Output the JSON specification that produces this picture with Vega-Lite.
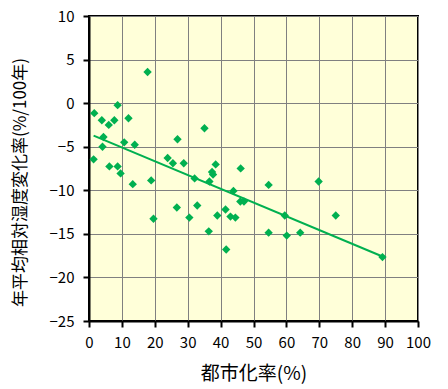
{
  "$schema": "https://vega.github.io/schema/vega-lite/v6.json",
  "width": 329,
  "height": 305,
  "autosize": "none",
  "padding": {"left": 89, "top": 16, "right": 30, "bottom": 68},
  "background": "white",
  "config": {
    "view": {"fill": "#FFFFD9", "stroke": "black", "strokeWidth": 2},
    "font": "Noto Sans CJK JP",
    "axis": {
      "grid": true,
      "gridColor": "#808080",
      "gridWidth": 1,
      "gridOpacity": 1,
      "domainColor": "black",
      "domainWidth": 2,
      "tickColor": "black",
      "tickWidth": 2,
      "tickSize": 6,
      "labelColor": "black",
      "labelFont": "Noto Sans CJK JP",
      "labelFontSize": 15,
      "labelOverlap": false,
      "labelFlush": false,
      "titleColor": "black",
      "titleFont": "Noto Sans CJK JP",
      "titleFontWeight": "normal"
    }
  },
  "datasets": {
    "pts": [
      {"u": 1.6, "r": -1.15}, {"u": 3.9, "r": -1.96}, {"u": 6.0, "r": -2.5}, {"u": 7.7, "r": -1.96},
      {"u": 8.7, "r": -0.23}, {"u": 12.0, "r": -1.73}, {"u": 17.8, "r": 3.57}, {"u": 4.4, "r": -3.88},
      {"u": 4.1, "r": -5.0}, {"u": 10.7, "r": -4.5}, {"u": 13.9, "r": -4.77}, {"u": 26.9, "r": -4.15},
      {"u": 35.1, "r": -2.88}, {"u": 1.4, "r": -6.45}, {"u": 6.2, "r": -7.26}, {"u": 8.7, "r": -7.26},
      {"u": 9.6, "r": -8.06}, {"u": 13.3, "r": -9.3}, {"u": 18.9, "r": -8.87}, {"u": 23.9, "r": -6.3},
      {"u": 25.5, "r": -6.9}, {"u": 28.8, "r": -6.9}, {"u": 32.1, "r": -8.64}, {"u": 36.6, "r": -8.99},
      {"u": 37.4, "r": -7.9}, {"u": 37.7, "r": -8.2}, {"u": 38.5, "r": -7.03}, {"u": 43.9, "r": -10.07},
      {"u": 46.1, "r": -7.49}, {"u": 19.6, "r": -13.27}, {"u": 26.7, "r": -11.98}, {"u": 30.5, "r": -13.13},
      {"u": 32.9, "r": -11.75}, {"u": 36.4, "r": -14.71}, {"u": 39.0, "r": -12.9}, {"u": 41.5, "r": -12.2},
      {"u": 41.7, "r": -16.8}, {"u": 43.0, "r": -13.02}, {"u": 44.5, "r": -13.13}, {"u": 46.0, "r": -11.29},
      {"u": 47.1, "r": -11.29}, {"u": 54.6, "r": -9.38}, {"u": 69.8, "r": -8.99}, {"u": 59.5, "r": -12.9},
      {"u": 75.0, "r": -12.9}, {"u": 54.6, "r": -14.86}, {"u": 60.1, "r": -15.2}, {"u": 64.2, "r": -14.86},
      {"u": 89.2, "r": -17.67}
    ],
    "trend": [
      {"u": 1.4, "r": -3.73},
      {"u": 89.2, "r": -17.6}
    ]
  },
  "encoding": {
    "x": {
      "field": "u", "type": "quantitative",
      "scale": {"domain": [0, 100], "nice": false, "zero": false},
      "axis": {"values": [0,10,20,30,40,50,60,70,80,90,100], "grid": true, "title": "都市化率(%)", "titleFontSize": 19, "labelPadding": 8, "titlePadding": 14}
    },
    "y": {
      "field": "r", "type": "quantitative",
      "scale": {"domain": [-25, 10], "nice": false, "zero": false},
      "axis": {"values": [-25,-20,-15,-10,-5,0,5,10], "grid": true, "title": "年平均相対湿度変化率(%/100年)", "titleFontSize": 17, "labelPadding": 9, "titleX": -69, "titleY": 166, "titleAngle": -90, "titleAlign": "center", "titleBaseline": "middle"}
    }
  },
  "layer": [
    {
      "data": {"name": "pts"},
      "mark": {"type": "point", "shape": "diamond", "filled": true, "size": 70, "color": "#00B050", "opacity": 1}
    },
    {
      "data": {"name": "trend"},
      "mark": {"type": "line", "color": "#00B050", "strokeWidth": 2}
    }
  ]
}
